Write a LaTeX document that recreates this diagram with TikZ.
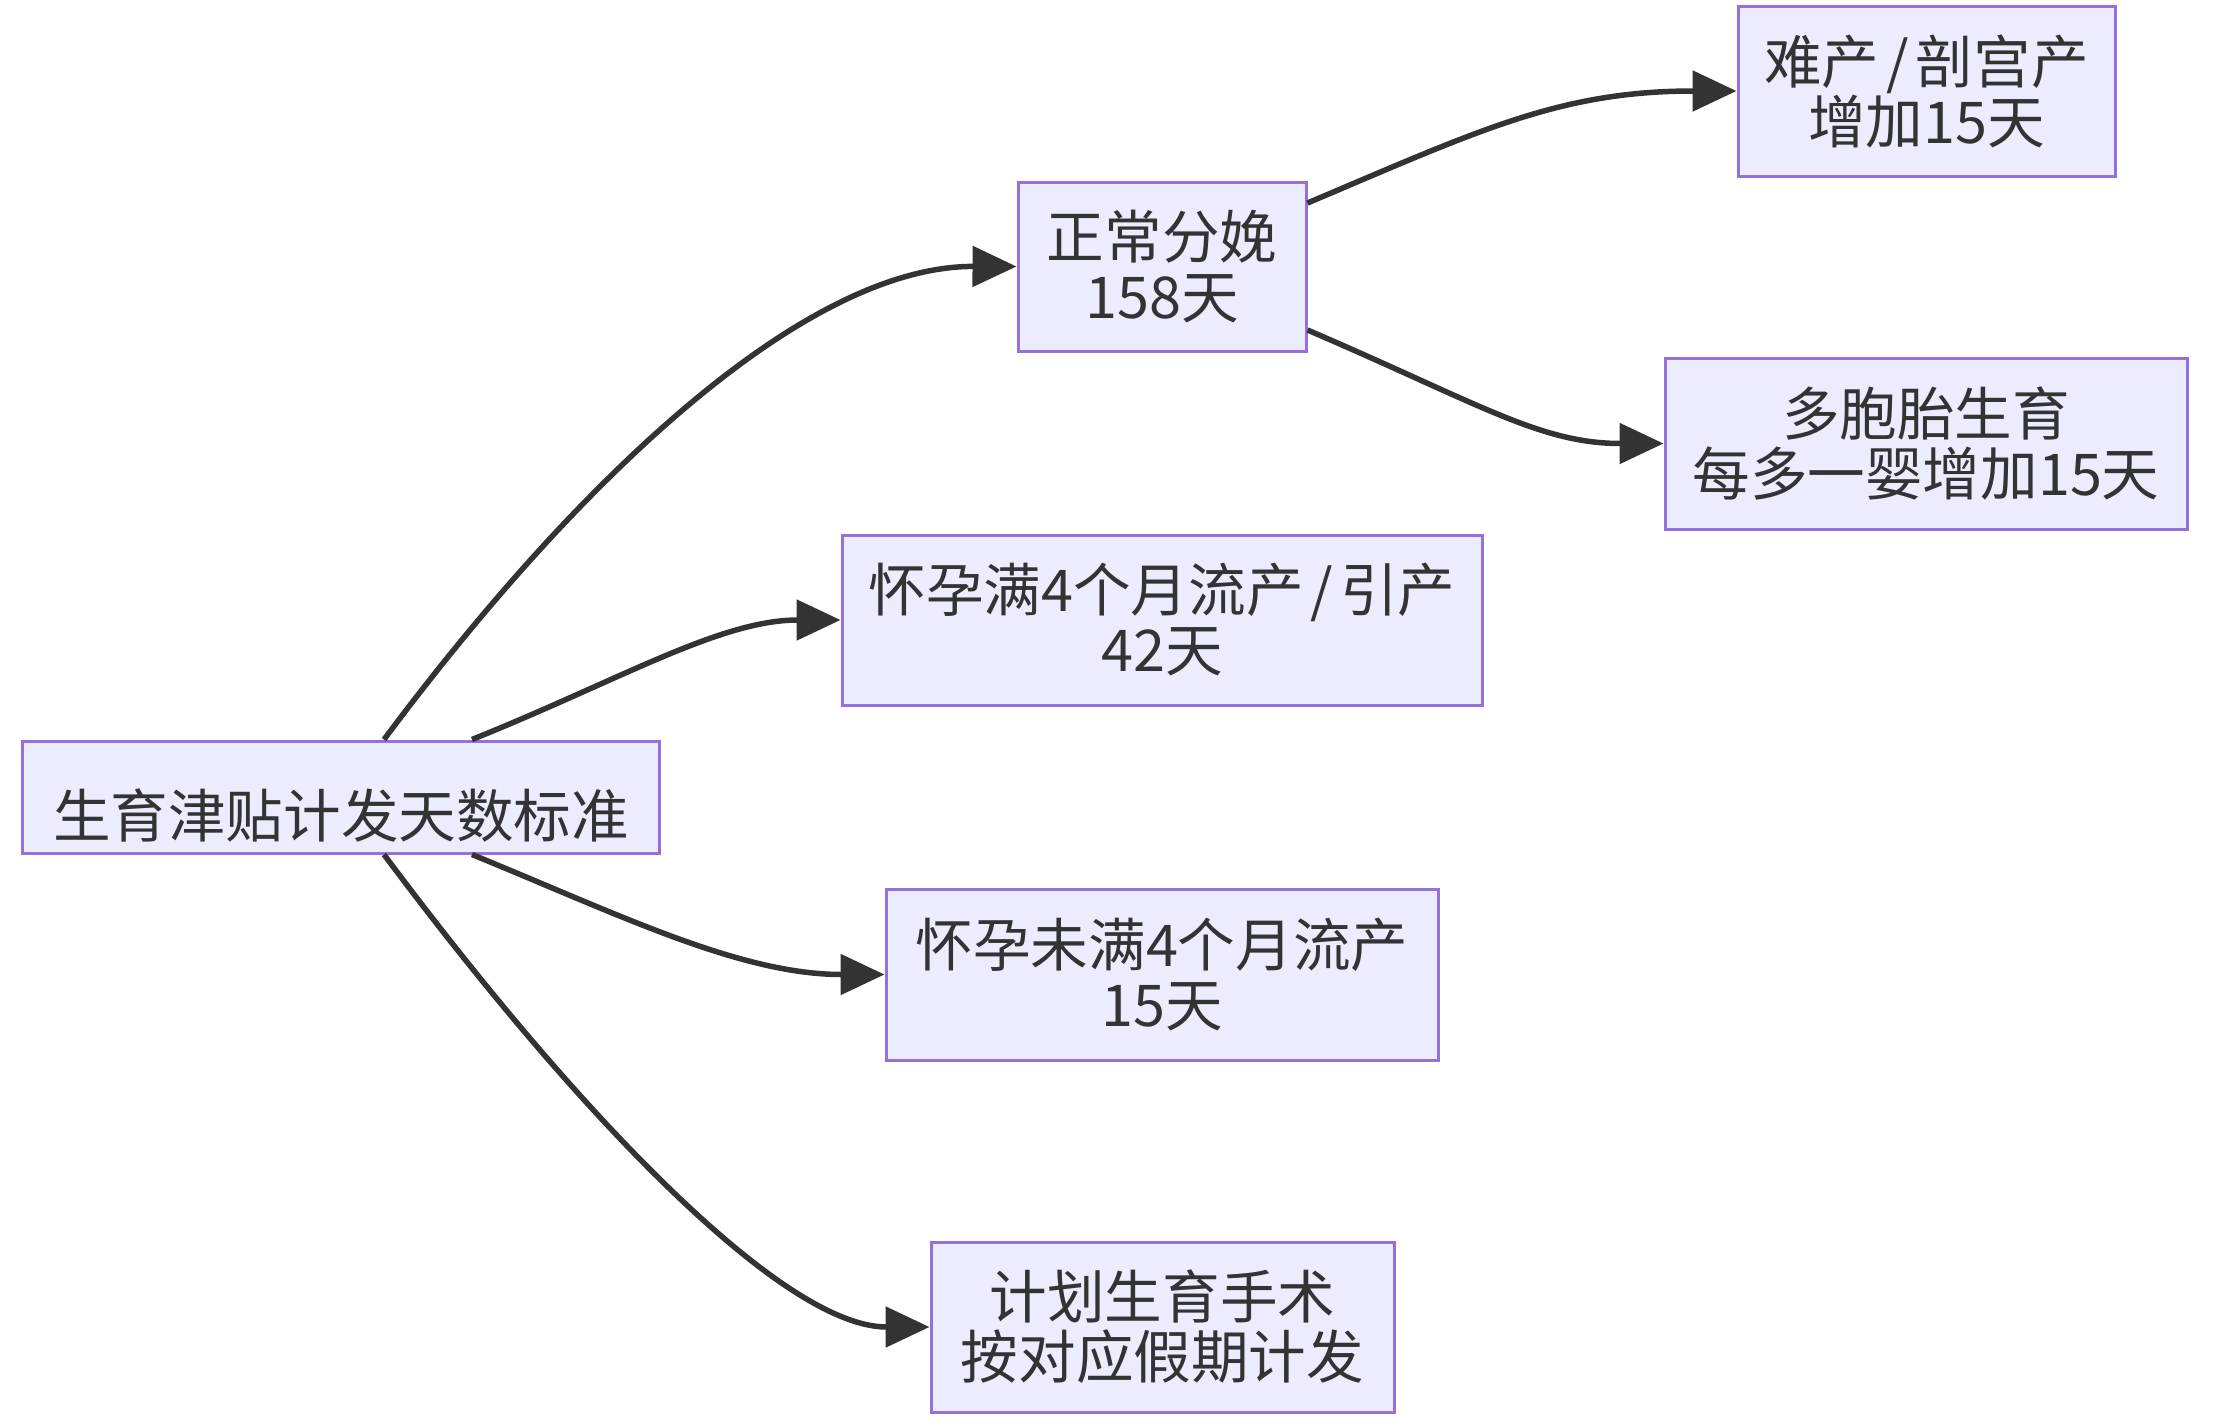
\documentclass[tikz,border=0pt]{standalone}
\usepackage{fontspec}
\newfontfamily\cjk{Noto Sans CJK SC}
\usetikzlibrary{arrows.meta}
\definecolor{boxfill}{HTML}{ECECFF}
\definecolor{boxline}{HTML}{9370DB}
\definecolor{ink}{HTML}{333333}
\newcommand{\myslash}{\hspace{0.12em}/\hspace{0.12em}}
\tikzset{
  box/.style={draw=boxline, fill=boxfill, line width=3pt, inner sep=0pt,
    align=center, text=ink, font=\cjk\fontsize{57.6}{60}\selectfont},
  link/.style={draw=ink, line width=5.5pt,
    -{Triangle[length=44pt,width=40pt]}},
}
\begin{document}
\begin{tikzpicture}[x=1pt,y=-1pt]
\useasboundingbox (0,0) rectangle (2230,1422);
\node[box, minimum width=637pt, minimum height=112pt] (root) at (341,797)
  {\raisebox{-18pt}[\height][\depth]{生育津贴计发天数标准}};
\node[box, minimum width=288pt, minimum height=169pt] (zc) at (1162,266.5) {正常分娩\\158天};
\node[box, minimum width=377pt, minimum height=170pt] (nc) at (1926.5,91) {难产\myslash 剖宫产\\增加15天};
\node[box, minimum width=522pt, minimum height=171pt] (dbt) at (1926,443.5) {多胞胎生育\\每多一婴增加15天};
\node[box, minimum width=640pt, minimum height=170pt] (m4) at (1162,620) {怀孕满4个月流产\myslash 引产\\42天};
\node[box, minimum width=552pt, minimum height=171pt] (wm4) at (1162,974.5) {怀孕未满4个月流产\\15天};
\node[box, minimum width=463pt, minimum height=170pt] (jh) at (1162.5,1327) {计划生育手术\\按对应假期计发};

\draw[link] ([xshift=43pt]root.north) .. controls (570,490) and (800,266) .. (zc.west);
\draw[link] ([xshift=131pt]root.north) .. controls (620,680) and (720,620) .. (m4.west);
\draw[link] ([xshift=131pt]root.south) .. controls (620,915) and (740,974.5) .. (wm4.west);
\draw[link] ([xshift=43pt]root.south) .. controls (570,1104) and (780,1327) .. (jh.west);
\draw[link] ([yshift=63.5pt]zc.east) .. controls (1480,130) and (1560,91) .. (nc.west);
\draw[link] ([yshift=-63.5pt]zc.east) .. controls (1480,404) and (1540,443.5) .. (dbt.west);
\end{tikzpicture}
\end{document}
